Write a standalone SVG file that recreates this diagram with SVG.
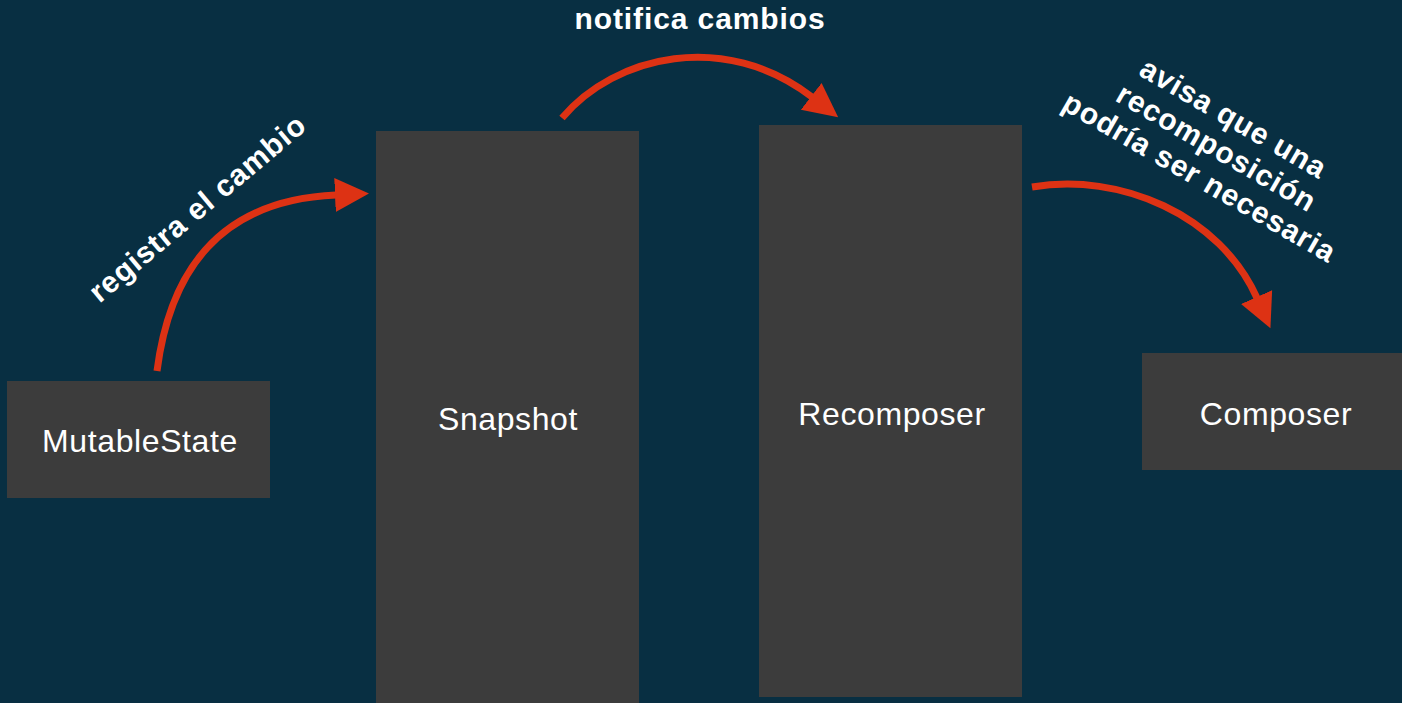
<svg xmlns="http://www.w3.org/2000/svg" width="1402" height="703" viewBox="0 0 1402 703">
<style>
.box{fill:#3c3c3c}
.lbl{font-family:"Liberation Sans",Arial,sans-serif;font-size:32px;fill:#ffffff;text-anchor:middle;letter-spacing:0.6px}
.elbl{font-family:"Liberation Sans",Arial,sans-serif;font-size:30px;font-weight:bold;fill:#ffffff;text-anchor:middle;letter-spacing:0.9px}
.conn{fill:none;stroke:#dd3214;stroke-width:7}
</style>
<defs>
<marker id="ah" markerUnits="userSpaceOnUse" markerWidth="40" markerHeight="40" viewBox="0 -20 40 40" refX="1" refY="0" orient="auto">
<path d="M0,-17 L34,0 L0,17 z" fill="#dd3214"/>
</marker>
</defs>
<rect width="1402" height="703" fill="#082f42"/>
<g id="mutablestate">
<rect class="box" x="7" y="381" width="263" height="117"/>
<text class="lbl" x="140" y="452">MutableState</text>
</g>
<g id="snapshot">
<rect class="box" x="376" y="131" width="263" height="580"/>
<text class="lbl" x="508" y="430">Snapshot</text>
</g>
<g id="recomposer">
<rect class="box" x="759" y="125" width="263" height="572"/>
<text class="lbl" x="892" y="425">Recomposer</text>
</g>
<g id="composer">
<rect class="box" x="1142" y="353" width="270" height="117"/>
<text class="lbl" x="1276" y="425">Composer</text>
</g>
<g id="connectors">
<path class="conn" d="M157,371 C170,270 220,200 336,195" marker-end="url(#ah)"/>
<path class="conn" d="M562,118 C615,55 725,30 812,97" marker-end="url(#ah)"/>
<path class="conn" d="M1032,187 C1120,172 1220,215 1257,298" marker-end="url(#ah)"/>
<text class="elbl" transform="translate(204,216) rotate(-40)" x="0" y="0">registra el cambio</text>
<text class="elbl" x="700" y="29">notifica cambios</text>
<g transform="translate(1217,147) rotate(30)">
<text class="elbl" x="0" y="-23">avisa que una</text>
<text class="elbl" x="0" y="11">recomposición</text>
<text class="elbl" x="0" y="45">podría ser necesaria</text>
</g>
</g>
</svg>
